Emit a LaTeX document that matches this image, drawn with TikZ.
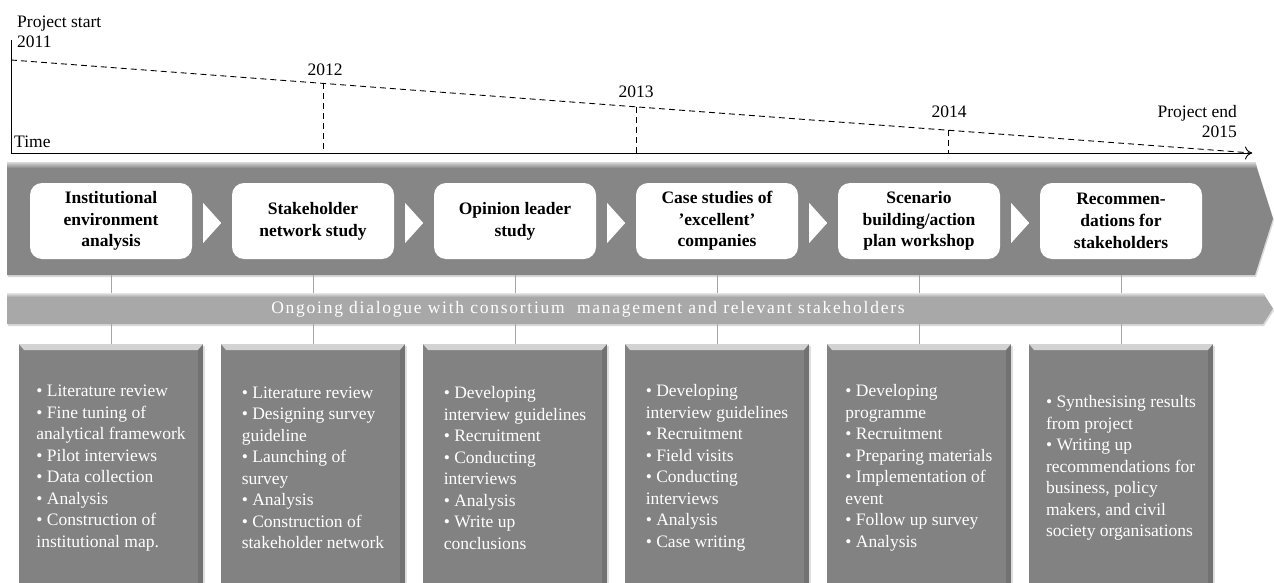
\documentclass[tikz,border=0pt]{standalone}
\usepackage{fontspec}
\setmainfont{Liberation Serif}
\newfontfamily\dlgfont{Liberation Serif}[LetterSpace=10]
\usepackage{tikz}
\usetikzlibrary{arrows.meta,shadows}
\definecolor{bandgray}{RGB}{134,134,134}
\definecolor{taskgray}{RGB}{130,130,130}
\definecolor{dlggray}{RGB}{168,168,168}
\definecolor{linkgray}{RGB}{165,165,165}

\begin{document}
\begin{tikzpicture}[x=1pt, y=-1pt, node distance=202pt, font=\fontsize{17.5}{21.5}\selectfont]
	\tikzstyle{yearlbl} = [inner sep=0pt]
	\tikzstyle{phase} = [fill=white, rounded corners=12pt, minimum width=162pt, minimum height=76pt, inner sep=2pt, align=center, font=\fontsize{17.5}{21.7}\selectfont\bfseries]
	\tikzstyle{tasks} = [fill=taskgray, text=white, minimum width=184pt, minimum height=248pt, inner sep=0pt, align=left,
	  drop shadow={opacity=0.25, shadow xshift=1.5pt, shadow yshift=-1.5pt},
	  path picture={
	    \shade[top color=white!65!taskgray, bottom color=taskgray] (path picture bounding box.north west) -- (path picture bounding box.north east) -- ([xshift=-5pt,yshift=-6pt]path picture bounding box.north east) -- ([xshift=5pt,yshift=-6pt]path picture bounding box.north west) -- cycle;
	    \fill[black, opacity=0.12] (path picture bounding box.north east) -- ([xshift=-5pt,yshift=-6pt]path picture bounding box.north east) -- ([xshift=-5pt]path picture bounding box.south east) -- (path picture bounding box.south east) -- cycle;}]
	\tikzstyle{link} = [linkgray, line width=0.8pt]
	\tikzstyle{dashes} = [line width=0.9pt, dash pattern=on 6pt off 4pt]
	\useasboundingbox (0,0) rectangle (1274,583);

	% time line
	\coordinate (top) at (11,40);
	\coordinate (O) at (11,153);
	\coordinate (T) at (1252,153);
	\coordinate (d0) at (11,60);
	\draw[line width=0.9pt, -{To[length=7pt,width=13pt]}] (top) -- (O) -- (T);
	\draw[dashes] (d0) -- (T);
	\path (d0) -- (T) coordinate[pos=0.2514] (y12) coordinate[pos=0.5036] (y13) coordinate[pos=0.7550] (y14);
	\foreach \t in {y12,y13,y14}
	  \draw[dashes] (\t) -- (\t |- O);
	\path
	node[yearlbl, anchor=base west] (start) at (17,28) {Project start}
	node[yearlbl, anchor=base west] (l2011) at (17,48) {2011}
	node[yearlbl, anchor=base] (l2012) at (325,76) {2012}
	node[yearlbl, anchor=base] (l2013) at (636,98) {2013}
	node[yearlbl, anchor=base] (l2014) at (949,118) {2014}
	node[yearlbl, anchor=base east] (pend) at (1237,118) {Project end}
	node[yearlbl, anchor=base east] (l2015) at (1237,138) {2015}
	node[yearlbl, anchor=base west] (time) at (14,148) {Time};

	% phase band
	\fill[bandgray, drop shadow={opacity=0.3, shadow xshift=1pt, shadow yshift=-2pt}] (7,162) -- (1255,162) -- (1273,218.5) -- (1255,275) -- (7,275) -- cycle;
	\shade[top color=white!70!bandgray, bottom color=bandgray] (7,162) -- (1255,162) -- (1257,168) -- (7,168) -- cycle;
	\coordinate (bandS) at (0,275);
	\path
	node[phase] (P1) at (111,221) {Institutional\\environment\\analysis}
	node[phase, right of=P1] (P2) {Stakeholder\\network study}
	node[phase, right of=P2] (P3) {Opinion leader\\study}
	node[phase, right of=P3] (P4) {Case studies of\\’excellent’\\companies}
	node[phase, right of=P4] (P5) {Scenario\\building/action\\plan workshop}
	node[phase, right of=P5] (P6) {Recommen-\\dations for\\stakeholders};
	\foreach \a in {P1,P2,P3,P4,P5}
	  \fill[white] ([xshift=11pt,yshift=18pt]\a.east) -- ([xshift=29pt,yshift=-2pt]\a.east) -- ([xshift=11pt,yshift=-22pt]\a.east) -- cycle;

	% dialogue band
	\fill[dlggray, drop shadow={opacity=0.3, shadow xshift=1pt, shadow yshift=-2pt}] (7,293) -- (1263,293) -- (1273,308.5) -- (1263,324) -- (7,324) -- cycle;
	\shade[top color=white!70!dlggray, bottom color=dlggray] (7,293) -- (1263,293) -- (1265,297) -- (7,297) -- cycle;
	\coordinate (dlgN) at (0,293);
	\coordinate (dlgS) at (0,324);
	\node[text=white, font=\dlgfont\fontsize{17.5}{21}\selectfont] (dlg) at (588,309) {Ongoing dialogue with consortium\ \ management and relevant stakeholders};

	% task boxes
	\path
	node[tasks] (T1) at (111,468) {• Literature review\\• Fine tuning of\\analytical framework\\• Pilot interviews\\• Data collection\\• Analysis\\• Construction of\\institutional map.}
	node[tasks, right of=T1] (T2) {• Literature review\\• Designing survey\\guideline\\• Launching of\\survey\\• Analysis\\• Construction of\\stakeholder network}
	node[tasks, right of=T2] (T3) {• Developing\\interview guidelines\\• Recruitment\\• Conducting\\interviews\\• Analysis\\• Write up\\conclusions}
	node[tasks, right of=T3] (T4) {• Developing\\interview guidelines\\• Recruitment\\• Field visits\\• Conducting\\interviews\\• Analysis\\• Case writing}
	node[tasks, right of=T4] (T5) {• Developing\\programme\\• Recruitment\\• Preparing materials\\• Implementation of\\event\\• Follow up survey\\• Analysis}
	node[tasks, right of=T5] (T6) {• Synthesising results\\from project\\• Writing up\\recommendations for\\business, policy\\makers, and civil\\society organisations};

	\foreach \n in {1,...,6} {
	  \draw[link] (P\n |- bandS) -- (P\n |- dlgN);
	  \draw[link] (T\n.north) -- (T\n |- dlgS);
	}
\end{tikzpicture}
\end{document}
